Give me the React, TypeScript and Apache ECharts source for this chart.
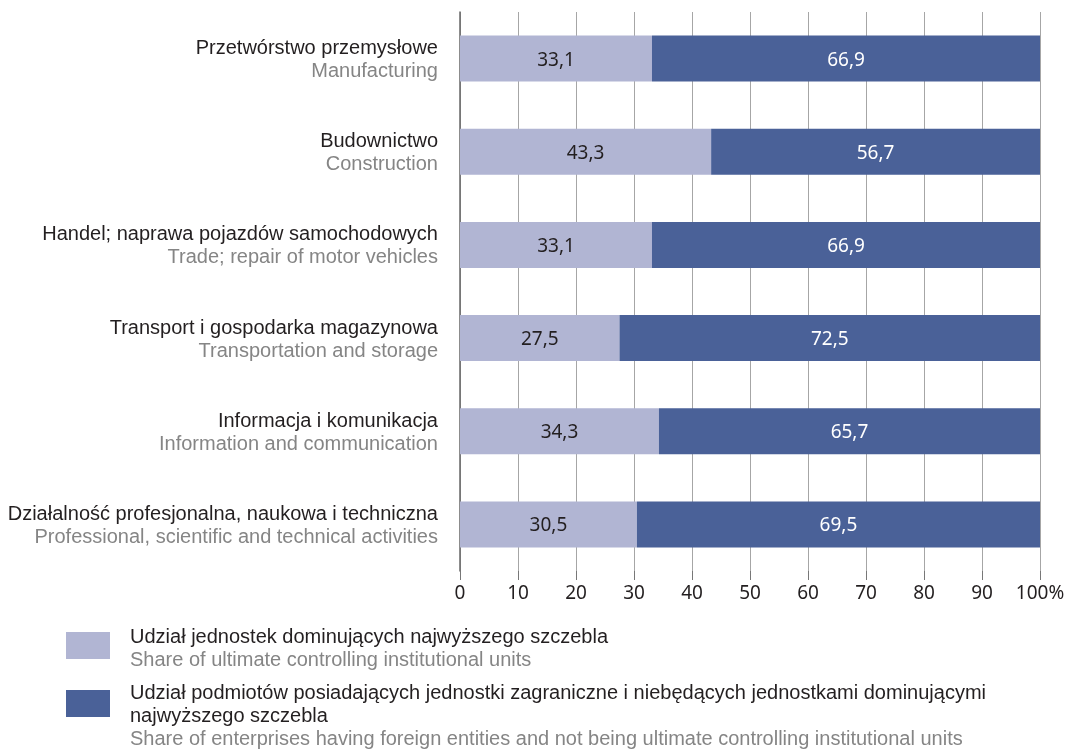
import React, { useEffect, useRef } from "react";
import * as echarts from "echarts";

const categoriesPl = [
  "Przetwórstwo przemysłowe",
  "Budownictwo",
  "Handel; naprawa pojazdów samochodowych",
  "Transport i gospodarka magazynowa",
  "Informacja i komunikacja",
  "Działalność profesjonalna, naukowa i techniczna",
];
const categoriesEn = [
  "Manufacturing",
  "Construction",
  "Trade; repair of motor vehicles",
  "Transportation and storage",
  "Information and communication",
  "Professional, scientific and technical activities",
];
const ultimateShare = [33.1, 43.3, 33.1, 27.5, 34.3, 30.5];
const otherShare = [66.9, 56.7, 66.9, 72.5, 65.7, 69.5];
const xTicks = [0, 10, 20, 30, 40, 50, 60, 70, 80, 90, 100];

const legend1Pl = "Udział jednostek dominujących najwyższego szczebla";
const legend1En = "Share of ultimate controlling institutional units";
const legend2Pl1 =
  "Udział podmiotów posiadających jednostki zagraniczne i niebędących jednostkami dominującymi";
const legend2Pl2 = "najwyższego szczebla";
const legend2En =
  "Share of enterprises having foreign entities and not being ultimate controlling institutional units";

const LIGHT = "#b1b5d3";
const DARK = "#4a6198";
const FONT = "'Noto Sans', sans-serif";
const FONT2 = "'Liberation Sans', Arial, sans-serif";
const TXT = "#231f20";
const GRAY = "#858585";
const FS = 19;
const FS2 = 20;

export default function App() {
  const ref = useRef<HTMLDivElement>(null);
  useEffect(() => {
    if (!ref.current) return;
    const chart = echarts.init(ref.current, undefined, { renderer: "svg" });
    const fmt = (v: number) => v.toFixed(1).replace(".", ",");
    const lt = (x: number, y: number, text: string, fill: string) => ({
      type: "text",
      x,
      y,
      style: { text, fill, fontSize: FS2, fontFamily: FONT2, verticalAlign: "middle", align: "left" },
    });
    chart.setOption({
      animation: false,
      textStyle: { fontFamily: FONT },
      grid: { left: 460, right: 36, top: 12, height: 559, containLabel: false },
      xAxis: {
        type: "value",
        min: 0,
        max: 100,
        interval: 10,
        axisLine: { show: false },
        axisTick: { show: true, length: 9, lineStyle: { color: "#777" } },
        axisLabel: {
          margin: 11,
          fontSize: FS,
          color: TXT,
          fontFamily: FONT,
          formatter: (v: number) => (v === 100 ? "100%" : String(xTicks[xTicks.indexOf(v)])),
        },
        splitLine: { show: true, lineStyle: { color: "#a6a6a6", width: 1 } },
      },
      yAxis: {
        type: "category",
        inverse: true,
        data: categoriesPl.map((c, i) => c + "\n" + categoriesEn[i]),
        axisLine: { show: true, lineStyle: { color: "#666", width: 1.5 } },
        axisTick: { show: false },
        axisLabel: {
          margin: 22,
          align: "right",
          formatter: (v: string) => {
            const [a, b] = v.split("\n");
            return "{pl|" + a + "}\n{en|" + b + "}";
          },
          rich: {
            pl: { fontSize: FS2, color: TXT, fontFamily: FONT2, lineHeight: 23, align: "right" },
            en: { fontSize: FS2, color: GRAY, fontFamily: FONT2, lineHeight: 23, align: "right" },
          },
        },
      },
      series: [
        {
          type: "bar",
          stack: "t",
          data: ultimateShare,
          barWidth: 46,
          itemStyle: { color: LIGHT },
          label: {
            show: true,
            position: "inside",
            color: TXT,
            fontSize: FS,
            fontFamily: FONT,
            formatter: (p: any) => fmt(p.value),
          },
        },
        {
          type: "bar",
          stack: "t",
          data: otherShare,
          barWidth: 46,
          itemStyle: { color: DARK },
          label: {
            show: true,
            position: "inside",
            color: "#ffffff",
            fontSize: FS,
            fontFamily: FONT,
            formatter: (p: any) => fmt(p.value),
          },
        },
      ],
      graphic: [
        { type: "rect", left: 66, top: 632, shape: { width: 44, height: 27 }, style: { fill: LIGHT } },
        lt(130, 636, legend1Pl, TXT),
        lt(130, 659, legend1En, GRAY),
        { type: "rect", left: 66, top: 690, shape: { width: 44, height: 27 }, style: { fill: DARK } },
        lt(130, 692, legend2Pl1, TXT),
        lt(130, 715, legend2Pl2, TXT),
        lt(130, 738, legend2En, GRAY),
      ],
    });
    return () => chart.dispose();
  }, []);
  return (
    <div
      ref={ref}
      style={{ position: "fixed", left: 0, top: 0, width: 1076, height: 750 }}
    />
  );
}
